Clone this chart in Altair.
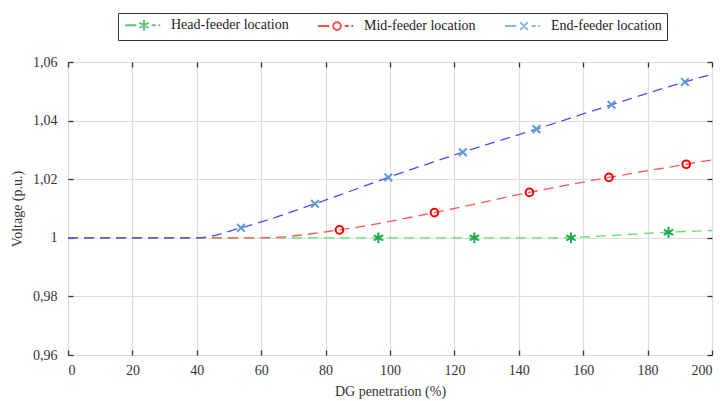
import altair as alt
import pandas as pd

series = ["Head-feeder location", "Mid-feeder location", "End-feeder location"]

# dashed curves
head_line_x = [0, 150, 186.5, 200]
head_line_y = [1.0, 1.0, 1.0019, 1.0025]
mid_line_x = [0, 60, 84.3, 113.8, 143.3, 168, 192, 200]
mid_line_y = [1.0, 1.0, 1.0027, 1.0086, 1.0155, 1.0206, 1.0251, 1.0266]
end_line_x = [0, 40, 53.7, 76.7, 99.5, 122.6, 145.5, 168.8, 191.6, 200]
end_line_y = [1.0, 1.0, 1.0034, 1.0116, 1.0206, 1.0292, 1.0371, 1.0454, 1.0532, 1.0558]

# markers
head_mark_x = [96.4, 126.2, 156.2, 186.5]
head_mark_y = [1.0, 1.0, 1.0, 1.0019]
mid_mark_x = [84.3, 113.8, 143.3, 168, 192]
mid_mark_y = [1.0027, 1.0086, 1.0155, 1.0206, 1.0251]
end_mark_x = [53.7, 76.7, 99.5, 122.6, 145.5, 168.8, 191.6]
end_mark_y = [1.0034, 1.0116, 1.0206, 1.0292, 1.0371, 1.0454, 1.0532]

x_ticks = [0, 20, 40, 60, 80, 100, 120, 140, 160, 180, 200]
y_ticks = [0.96, 0.98, 1.0, 1.02, 1.04, 1.06]

line_colors = ["#5fe85f", "#ff5555", "#4b4bff"]
marker_colors = ["#1faa4f", "#ff0000", "#5b9bd5"]

ast = "M0,-1.2L0,1.2M-1.04,-0.6L1.04,0.6M-1.04,0.6L1.04,-0.6"
circ = "M0.85,0A0.85,0.85,0,1,1,-0.85,0A0.85,0.85,0,1,1,0.85,0Z"
xx = "M-0.85,-0.85L0.85,0.85M-0.85,0.85L0.85,-0.85"
dashes = "M-4.2,0H-1.7M1.7,0H2.6M3.2,0H3.6"
plot_shapes = [ast, circ, xx]
legend_shapes = [dashes + s for s in plot_shapes]

FONT = "Liberation Serif"

def frame(xs, ys, name):
    return pd.DataFrame({"x": xs, "y": ys, "series": name})

lines_df = pd.concat([
    frame(head_line_x, head_line_y, series[0]),
    frame(mid_line_x, mid_line_y, series[1]),
    frame(end_line_x, end_line_y, series[2]),
])
marks_df = pd.concat([
    frame(head_mark_x, head_mark_y, series[0]),
    frame(mid_mark_x, mid_mark_y, series[1]),
    frame(end_mark_x, end_mark_y, series[2]),
])

xscale = alt.Scale(domain=[0, 200], nice=False, zero=False)
yscale = alt.Scale(domain=[0.96, 1.06], nice=False, zero=False)

common_axis = dict(domain=False, tickSize=5, tickColor="#333333", tickWidth=1.3,
                   offset=-5, labelFont=FONT, labelFontSize=14, labelColor="#333333",
                   titleFont=FONT, titleFontSize=14, titleFontWeight="normal",
                   titleColor="#333333", gridColor="#dddddd", gridWidth=1.2)
no_title = {k: v for k, v in common_axis.items() if not k.startswith("title")}

x_bottom = alt.Axis(values=x_ticks, grid=True, labelPadding=8, title="DG penetration (%)",
                    titlePadding=7, **common_axis)
y_left = alt.Axis(values=y_ticks, grid=True, labelPadding=11, title="Voltage (p.u.)",
                  titlePadding=8,
                  labelExpr="replace(format(datum.value, '.2~f'), '.', ',')", **common_axis)
x_top = alt.Axis(values=x_ticks, orient="top", grid=False, labels=False, title=None, **no_title)
y_right = alt.Axis(values=y_ticks, orient="right", grid=False, labels=False, title=None, **no_title)

lines = alt.Chart(lines_df).mark_line(strokeDash=[10, 6], strokeWidth=1.3, interpolate="monotone").encode(
    x=alt.X("x:Q", scale=xscale, axis=x_bottom),
    y=alt.Y("y:Q", scale=yscale, axis=y_left),
    color=alt.Color("series:N", scale=alt.Scale(domain=series, range=line_colors), legend=None),
)

points = alt.Chart(marks_df).mark_point(filled=False, size=81, strokeWidth=2, opacity=1).encode(
    x=alt.X("x:Q", scale=xscale, axis=x_top),
    y=alt.Y("y:Q", scale=yscale, axis=y_right),
    color=alt.Color("series:N", scale=alt.Scale(domain=series, range=marker_colors), legend=None),
    shape=alt.Shape("series:N", scale=alt.Scale(domain=series, range=plot_shapes), legend=None),
)

legend_layer = alt.Chart(marks_df).transform_filter("false").mark_point(filled=False, size=81, strokeWidth=2).encode(
    x=alt.X("x:Q", scale=xscale, axis=None),
    y=alt.Y("y:Q", scale=yscale, axis=None),
    color=alt.Color("series:N", scale=alt.Scale(domain=series, range=marker_colors),
                    legend=alt.Legend(title=None, orient="none", legendX=50, legendY=-49,
                                      direction="horizontal", strokeColor="#333333",
                                      padding=5, symbolSize=81, symbolStrokeWidth=2,
                                      symbolOffset=14, labelOffset=20, columnPadding=25,
                                      labelFont=FONT, labelFontSize=14, labelColor="#222222")),
    shape=alt.Shape("series:N", scale=alt.Scale(domain=series, range=legend_shapes)),
)

chart = alt.layer(lines, points, legend_layer).resolve_scale(
    color="independent", shape="independent", x="independent", y="independent"
).resolve_axis(x="independent", y="independent").properties(
    width=644, height=293,
    autosize=alt.AutoSizeParams(type="none"),
    padding={"left": 68, "top": 62, "right": 8, "bottom": 46},
).configure_view(stroke="#222222", strokeWidth=1.5).configure(font=FONT)

chart.save("out.html", embed_options={"renderer": "svg", "actions": False})
